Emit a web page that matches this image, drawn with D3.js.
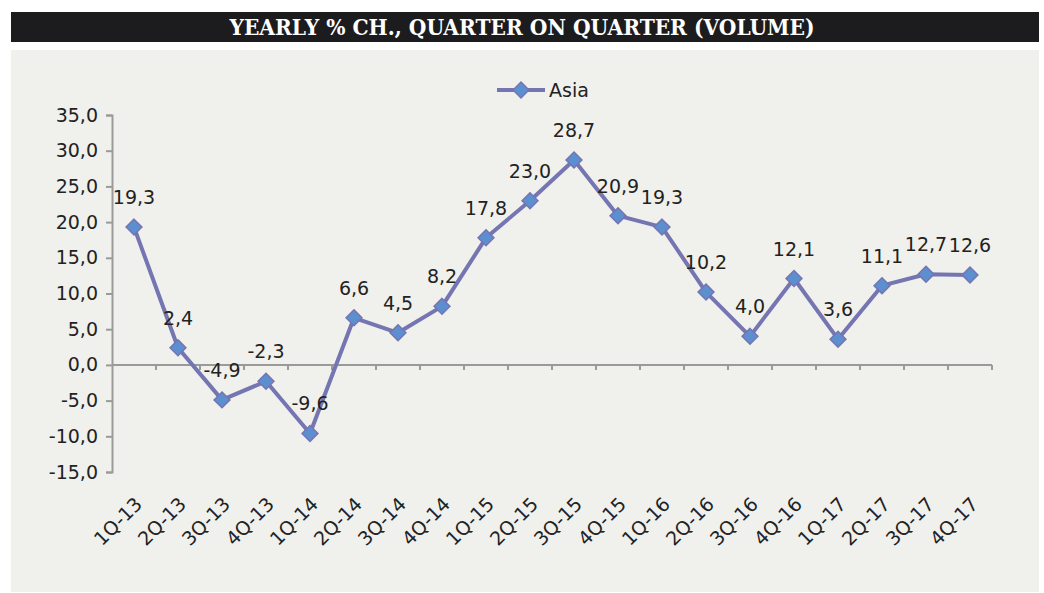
<!DOCTYPE html>
<meta charset="utf-8">
<body>
<script src="https://cdn.jsdelivr.net/npm/d3@7/dist/d3.min.js"></script>
<style>
    html, body {
        margin: 0;
        background: #fff;
    }
    text { font-family: "DejaVu Sans", sans-serif; fill: #222; }
</style>
<script>
var quarters = ["1Q-13", "2Q-13", "3Q-13", "4Q-13",
                "1Q-14", "2Q-14", "3Q-14", "4Q-14",
                "1Q-15", "2Q-15", "3Q-15", "4Q-15",
                "1Q-16", "2Q-16", "3Q-16", "4Q-16",
                "1Q-17", "2Q-17", "3Q-17", "4Q-17"];
var asia = [19.3, 2.4, -4.9, -2.3, -9.6, 6.6, 4.5, 8.2, 17.8, 23.0,
            28.7, 20.9, 19.3, 10.2, 4.0, 12.1, 3.6, 11.1, 12.7, 12.6];
var yTicks = [-15, -10, -5, 0, 5, 10, 15, 20, 25, 30, 35];
var title = "YEARLY % CH., QUARTER ON QUARTER (VOLUME)";
var seriesName = "Asia";

var width = 1044, height = 593,
    lineColor = "#7575b2",
    markColor = "#5b8fd0",
    fmt = function(v) { return v.toFixed(1).replace(".", ","); };

var svg = d3.select("body").append("svg")
    .attr("width", width)
    .attr("height", height);

// title bar + panel
svg.append("rect")
    .attr("x", 11).attr("y", 12).attr("width", 1028).attr("height", 30)
    .attr("fill", "#1c1c1e");
svg.append("text")
    .attr("x", 522).attr("y", 35)
    .attr("text-anchor", "middle")
    .attr("textLength", 585)
    .attr("lengthAdjust", "spacingAndGlyphs")
    .style("font-family", "'DejaVu Serif Condensed', 'DejaVu Serif', serif")
    .style("font-stretch", "condensed")
    .style("font-weight", "bold")
    .style("font-size", "22px")
    .style("fill", "#fff")
    .text(title);
svg.append("rect")
    .attr("x", 11).attr("y", 50).attr("width", 1028).attr("height", 542)
    .attr("fill", "#f0f0ec");

var x = d3.scaleBand().domain(quarters).range([112, 992]);
var y = d3.scaleLinear().domain([-15, 35]).range([472, 115]);
var cx = function(d, i) { return x(quarters[i]) + x.bandwidth() / 2; };

// y axis
var yAxis = svg.append("g")
    .attr("transform", "translate(112,0)")
    .call(d3.axisLeft(y).tickValues(yTicks).tickSize(6).tickPadding(8).tickFormat(fmt));
yAxis.selectAll("text").style("font-size", "19px").style("fill", "#222");

// x axis at zero line, ticks at band edges
var xAxis = svg.append("g")
    .attr("transform", "translate(0," + y(0) + ")");
xAxis.append("line")
    .attr("x1", 112).attr("x2", 992)
    .attr("stroke", "#9a9a9a").attr("stroke-width", 2);
xAxis.selectAll(".tk")
    .data(quarters)
    .enter().append("line")
    .attr("x1", function(d) { return x(d) + x.bandwidth(); })
    .attr("x2", function(d) { return x(d) + x.bandwidth(); })
    .attr("y1", 0).attr("y2", 5)
    .attr("stroke", "#9a9a9a").attr("stroke-width", 2);
svg.selectAll(".domain, .tick line").attr("stroke", "#9a9a9a").attr("stroke-width", 2);

// category labels, rotated
svg.selectAll(".cat")
    .data(quarters)
    .enter().append("text")
    .attr("transform", function(d) {
        return "translate(" + (x(d) + x.bandwidth() / 2) + ",496) rotate(-45)";
    })
    .attr("text-anchor", "end")
    .attr("dy", "0.7em")
    .style("font-size", "19px")
    .text(function(d) { return d; });

// series line
svg.append("path")
    .datum(asia)
    .attr("fill", "none")
    .attr("stroke", lineColor)
    .attr("stroke-width", 4)
    .attr("stroke-linejoin", "round")
    .attr("d", d3.line().x(cx).y(function(d) { return y(d); }));

var diamond = d3.symbol().type(d3.symbolDiamond2).size(160);

svg.selectAll(".pt")
    .data(asia)
    .enter().append("path")
    .attr("transform", function(d, i) { return "translate(" + cx(d, i) + "," + y(d) + ")"; })
    .attr("d", diamond)
    .attr("fill", markColor)
    .attr("stroke", lineColor)
    .attr("stroke-width", 1.5);

svg.selectAll(".lbl")
    .data(asia)
    .enter().append("text")
    .attr("x", cx)
    .attr("y", function(d) { return y(d) - 23; })
    .attr("text-anchor", "middle")
    .style("font-size", "19px")
    .text(fmt);

// legend
var lg = svg.append("g").attr("transform", "translate(497,90)");
lg.append("line")
    .attr("x1", 0).attr("x2", 48)
    .attr("stroke", lineColor).attr("stroke-width", 4);
lg.append("path")
    .attr("transform", "translate(24,0)")
    .attr("d", diamond)
    .attr("fill", markColor)
    .attr("stroke", lineColor)
    .attr("stroke-width", 1.5);
lg.append("text")
    .attr("x", 52).attr("y", 7)
    .style("font-size", "19px")
    .text(seriesName);
</script>
